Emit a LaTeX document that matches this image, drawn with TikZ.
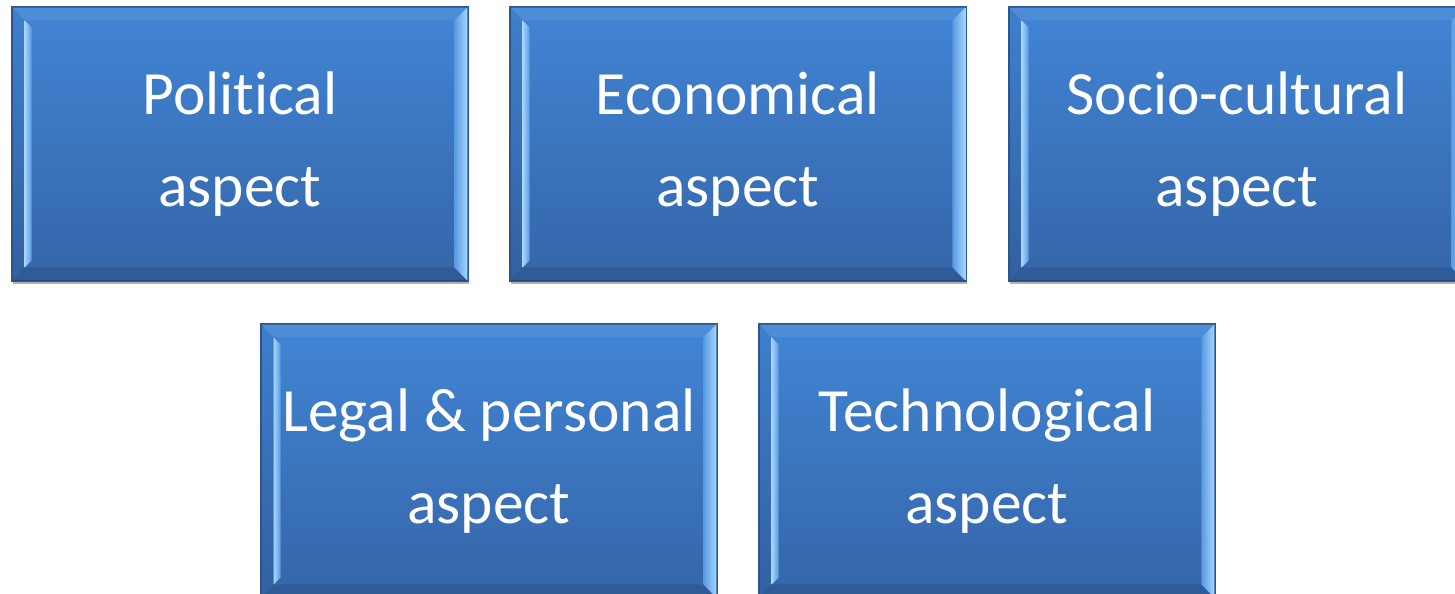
\documentclass[tikz,border=0pt]{standalone}
\usepackage{fontspec}
\setmainfont{Carlito}[RawFeature={-liga;-clig;-calt;-dlig}]
\usetikzlibrary{calc,shadows}

\definecolor{faceTop}{HTML}{4185D5}
\definecolor{faceBot}{HTML}{3565A8}
\definecolor{edgeDark}{HTML}{2C5791}
\definecolor{bevelLight}{HTML}{A6D6FF}
\definecolor{bevelMid}{HTML}{5A9AE2}

\begin{document}
\begin{tikzpicture}[x=0.02cm, y=-0.02cm,
    aspect/.style={draw=edgeDark, line width=0.6pt, top color=faceTop, bottom color=faceBot,
        minimum width=9.12cm, minimum height=5.48cm, inner sep=0pt,
        text=white, align=center, font=\fontsize{35}{52.7}\selectfont,
        drop shadow={shadow xshift=0.6pt, shadow yshift=-1.6pt, opacity=0.3, fill=black}},
    bevtop/.style={fill=white, opacity=0.07},
    bevbot/.style={fill=black, opacity=0.1},
    bevleft/.style={fill=black, opacity=0.04}
]

\useasboundingbox (0,0) rectangle (1455,594);

% --- obere Reihe ---
\node[aspect] (pol) at (240,144)  {Poli\kern0pt tical\\aspect};
\node[aspect] (eco) at (738,144)  {Economical\\aspect};
\node[aspect] (soc) at (1237,144) {Socio-cultural\\aspect};

% --- untere Reihe ---
\node[aspect] (leg) at (489,461)  {Legal \& personal\\aspect};
\node[aspect] (tec) at (987,461)  {Technological\\aspect};

% --- Abschraegung (bevel) ---
\foreach \n in {pol,eco,soc,leg,tec}{
  \fill[bevtop] (\n.north west) -- (\n.north east) -- ++(-13,14)
      -- ($(\n.north west)+(13,14)$) -- cycle;
  \fill[bevbot] (\n.south west) -- (\n.south east) -- ++(-13,-14)
      -- ($(\n.south west)+(13,-14)$) -- cycle;
  \fill[bevleft] (\n.north west) -- ++(13,14) -- ($(\n.south west)+(13,-14)$)
      -- (\n.south west) -- cycle;
  % helle Kante links
  \shade[left color=bevelLight, right color=bevelMid]
      ($(\n.north west)+(13,14)$) -- ++(7,7) -- ($(\n.south west)+(20,-21)$)
      -- ++(-7,7) -- cycle;
  % helle Kante rechts
  \shade[left color=bevelMid, right color=bevelLight]
      ($(\n.north east)+(-14,14)$) -- ++(13,-13) -- ($(\n.south east)+(-1,-1)$)
      -- ++(-13,-13) -- cycle;
  \draw[edgeDark, line width=0.6pt] (\n.north west) rectangle (\n.south east);
}

\end{tikzpicture}
\end{document}
